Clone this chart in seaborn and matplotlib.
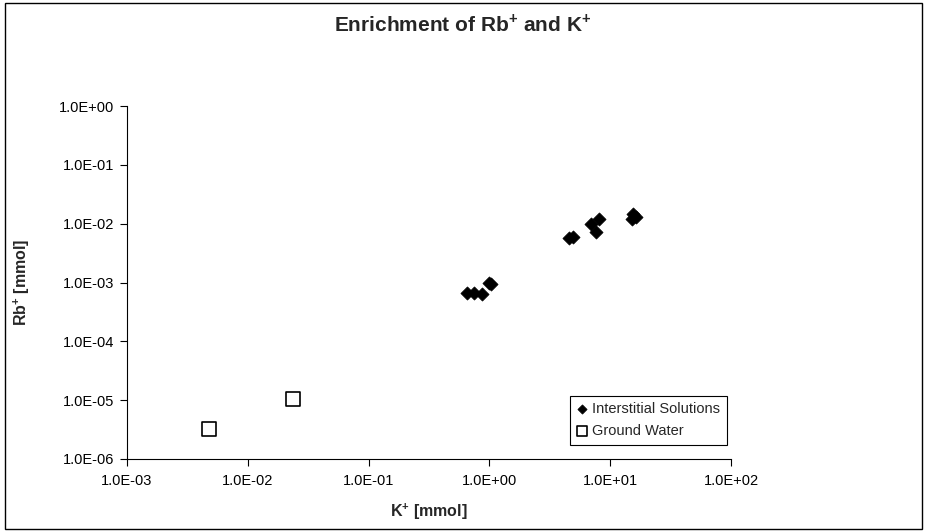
import matplotlib
matplotlib.use("Agg")
import matplotlib.pyplot as plt
import matplotlib.ticker as mticker
from matplotlib.patches import Rectangle
import seaborn as sns

# values (mmol)
k_interstitial = [0.65, 0.75, 0.87, 0.99, 1.03, 4.6, 4.9, 7.0, 7.6, 8.1, 15.2, 15.5, 16.5]
rb_interstitial = [6.6e-4, 6.6e-4, 6.4e-4, 9.8e-4, 9.3e-4, 5.6e-3, 5.9e-3,
                   1.0e-2, 7.3e-3, 1.2e-2, 1.2e-2, 1.45e-2, 1.3e-2]
k_ground = [4.8e-3, 2.35e-2]
rb_ground = [3.2e-6, 1.05e-5]

x_ticks = [1e-3, 1e-2, 1e-1, 1e0, 1e1, 1e2]
y_ticks = [1e-6, 1e-5, 1e-4, 1e-3, 1e-2, 1e-1, 1e0]

sns.set_style("white")
plt.rcParams['font.family'] = ['Liberation Sans', 'DejaVu Sans']
plt.rcParams['mathtext.fontset'] = 'custom'
plt.rcParams['mathtext.rm'] = 'Liberation Sans'
plt.rcParams['mathtext.bf'] = 'Liberation Sans:bold'

W, H = 926, 532
fig = plt.figure(figsize=(W / 100, H / 100), dpi=100)
ax = fig.add_axes([127 / W, 1 - 459 / H, (731 - 127) / W, (459 - 106) / H])

sns.scatterplot(x=k_interstitial, y=rb_interstitial, marker='D', color='black',
                edgecolor='black', linewidth=0.5, s=45,
                label='Interstitial Solutions', ax=ax, zorder=3)
sns.scatterplot(x=k_ground, y=rb_ground, marker='s', color='white',
                edgecolor='black', linewidth=1.2, s=95,
                label='Ground Water', ax=ax, zorder=3)

ax.set_xscale('log')
ax.set_yscale('log')
ax.set_xlim(x_ticks[0], x_ticks[-1])
ax.set_ylim(y_ticks[0], y_ticks[-1])
ax.xaxis.set_major_locator(mticker.FixedLocator(x_ticks))
ax.yaxis.set_major_locator(mticker.FixedLocator(y_ticks))
ax.xaxis.set_minor_locator(mticker.NullLocator())
ax.yaxis.set_minor_locator(mticker.NullLocator())
fmt = mticker.FuncFormatter(lambda v, _: f"{v:.1E}")
ax.xaxis.set_major_formatter(fmt)
ax.yaxis.set_major_formatter(fmt)
ax.tick_params(axis='both', which='major', direction='out', length=5, width=0.8,
               color='black', labelsize=10.5, labelcolor='black',
               bottom=True, left=True)
ax.tick_params(axis='x', pad=6)
ax.tick_params(axis='y', pad=4)

for side in ['top', 'right']:
    ax.spines[side].set_visible(False)
for side in ['left', 'bottom']:
    ax.spines[side].set_color('black')
    ax.spines[side].set_linewidth(0.8)

ax.set_xlabel(r"K$^{\mathbf{+}}$ [mmol]", fontsize=11.5, fontweight='bold', va='center')
ax.set_ylabel(r"Rb$^{\mathbf{+}}$ [mmol]", fontsize=11.5, fontweight='bold', va='center')
ax.xaxis.set_label_coords(0.5, -(512 - 459) / (459 - 106))
ax.yaxis.set_label_coords(-(127 - 22) / (731 - 127), 0.5)

fig.text(0.5, 1 - 24 / H, r"Enrichment of Rb$^{\mathbf{+}}$ and K$^{\mathbf{+}}$",
         ha='center', va='center', fontsize=15, fontweight='bold')

leg = ax.legend(loc='lower right', bbox_to_anchor=(0.993, 0.04), frameon=True,
                fancybox=False, edgecolor='black', framealpha=1, fontsize=10.5,
                handlelength=0.8, handletextpad=0.3, borderpad=0.45,
                labelspacing=0.55, markerscale=0.7, borderaxespad=0)
leg.get_frame().set_linewidth(0.8)

fig.patches.append(Rectangle((5 / W, 3 / H), 917 / W, 526 / H, transform=fig.transFigure,
                             fill=False, edgecolor='black', linewidth=1))

fig.savefig('out.png', dpi=100)
